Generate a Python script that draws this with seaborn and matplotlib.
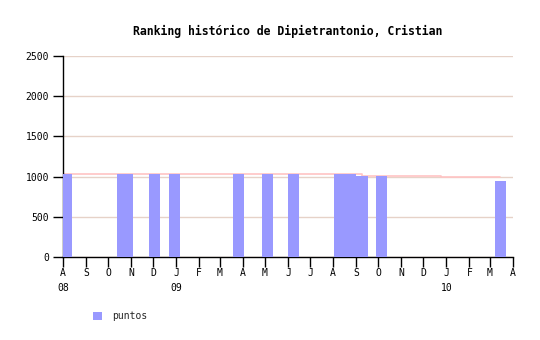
import matplotlib
matplotlib.use("Agg")
import matplotlib.pyplot as plt
from matplotlib.patches import Patch
import seaborn as sns
import pandas as pd

# ---- data ----
bar_dates = ["2008-08-05", "2008-10-20", "2008-10-27", "2008-12-03", "2008-12-30",
             "2009-03-26", "2009-05-04", "2009-06-08", "2009-08-09", "2009-08-24",
             "2009-09-09", "2009-10-05", "2010-03-15"]
bar_values = [1034, 1034, 1034, 1034, 1034,
              1034, 1034, 1034, 1034, 1034,
              1004, 1004, 945]
line_dates = ["2008-08-01", "2009-09-09", "2009-12-25", "2010-03-15"]
line_values = [1034, 1012, 1000, 1000]
month_letters = ["A", "S", "O", "N", "D", "J", "F", "M", "A", "M", "J",
                 "J", "A", "S", "O", "N", "D", "J", "F", "M", "A"]
year_labels = {0: "08", 5: "09", 17: "10"}
title = "Ranking histórico de Dipietrantonio, Cristian"
legend_label = "puntos"

sns.set_style("white")
plt.rcParams["font.family"] = ["DejaVu Sans Mono"]

bars = pd.DataFrame({"fecha": pd.to_datetime(bar_dates), "puntos": bar_values})
line = pd.DataFrame({"fecha": pd.to_datetime(line_dates), "valor": line_values})

fig = plt.figure(figsize=(5.4, 3.4), dpi=100)
ax = fig.add_axes([63/540, 1-256.7/340, 450/540, 200.4/340])

bar_color = "#9999ff"
ax.bar(bars["fecha"], bars["puntos"], width=15, color=bar_color, zorder=3, linewidth=0)
sns.lineplot(data=line, x="fecha", y="valor", drawstyle="steps-post",
             color="#ffc4c4", linewidth=1.2, ax=ax, zorder=2, legend=False)

ax.set_ylim(0, 2500)
ax.set_yticks([0, 500, 1000, 1500, 2000, 2500])
ax.yaxis.grid(True, color="#e6d2c8", linewidth=1, zorder=0)
ax.xaxis.grid(False)

start = pd.Timestamp("2008-08-01")
end = pd.Timestamp("2010-04-01")
ticks = pd.date_range(start, end, freq="MS")
ax.set_xlim(start, end)
ax.set_xticks(ticks)
labels = []
for i, m in enumerate(month_letters):
    labels.append(m + ("\n" + year_labels[i] if i in year_labels else ""))
ax.set_xticklabels(labels, linespacing=1.65, va="top")

for s in ["top", "right"]:
    ax.spines[s].set_visible(False)
for s in ["left", "bottom"]:
    ax.spines[s].set_color("black")
    ax.spines[s].set_linewidth(1)

ax.tick_params(axis="both", direction="out", length=7, width=1, color="black",
               labelsize=7, labelcolor="black", bottom=True, left=True)
ax.tick_params(axis="x", pad=1.2)
ax.tick_params(axis="y", pad=3)
ax.set_xlabel("")
ax.set_ylabel("")

fig.text(288/540, 1-31/340, title, ha="center", va="center",
         fontsize=8.3, fontweight="bold", color="black")

handle = Patch(facecolor=bar_color, edgecolor="none", label=legend_label)
ax.legend(handles=[handle], loc="center left", bbox_to_anchor=(84/540, 1-316/340),
          bbox_transform=fig.transFigure, frameon=False, fontsize=7,
          handlelength=0.9, handleheight=0.9, handletextpad=1.1)

fig.savefig("out.png", dpi=100)
